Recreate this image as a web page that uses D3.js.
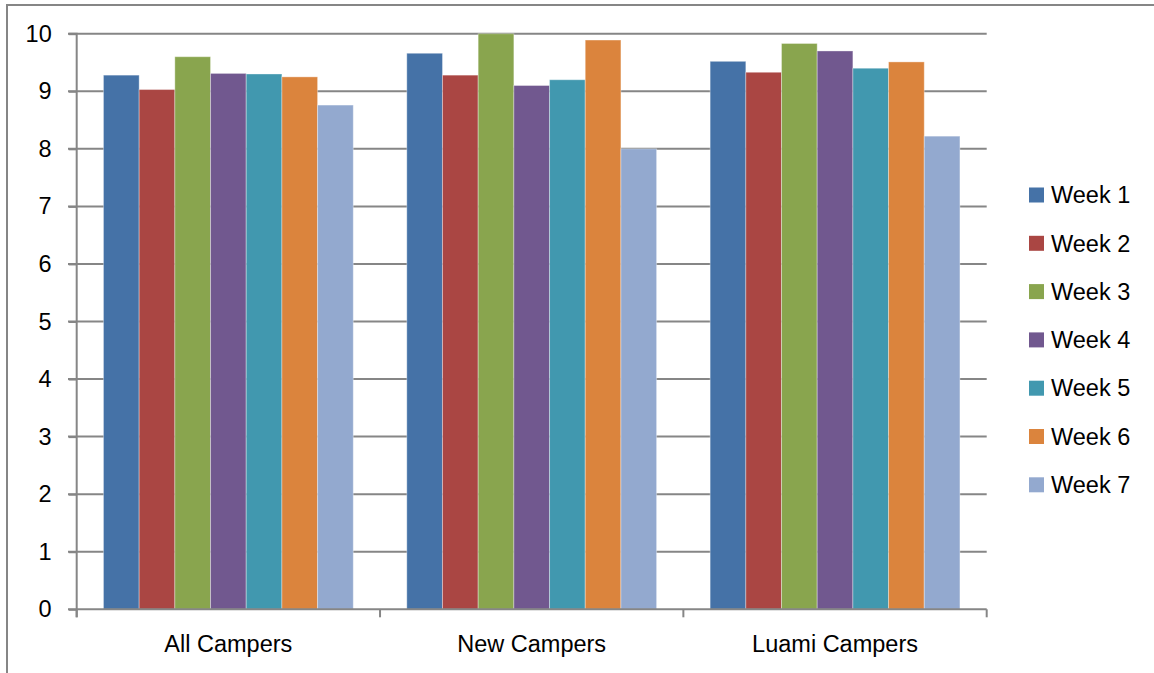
<!DOCTYPE html>
<html><head><meta charset="utf-8">
<script src="https://cdn.jsdelivr.net/npm/d3@7"></script>
<style>body{margin:0;background:#fff;} svg{display:block;}</style>
</head><body>
<svg id="c" width="1154" height="673"></svg>
<script>
const categories = ["All Campers","New Campers","Luami Campers"];
const seriesNames = ["Week 1","Week 2","Week 3","Week 4","Week 5","Week 6","Week 7"];
const week1 = [9.28, 9.66, 9.52];
const week2 = [9.03, 9.28, 9.33];
const week3 = [9.60, 10.0, 9.83];
const week4 = [9.31, 9.10, 9.70];
const week5 = [9.30, 9.20, 9.40];
const week6 = [9.25, 9.89, 9.51];
const week7 = [8.76, 8.00, 8.22];
const yTicks = [0,1,2,3,4,5,6,7,8,9,10];
const colors = ["#4572A7","#AA4643","#89A54E","#71588F","#4198AF","#DB843D","#93A9CF"];
const series = [week1,week2,week3,week4,week5,week6,week7];

const svg = d3.select("#c");
const font = "'Liberation Sans', Arial, sans-serif";
const fs = 23.5;
const L = 76.7, R = 986.7, T = 33.7, B = 609.3;
const grid = "#868686";

// outer border (clipped)
svg.append("path").attr("d","M7,673 V5 H1154").attr("fill","none").attr("stroke",grid).attr("stroke-width",2);

const x0 = d3.scaleBand().domain(categories).range([L,R]).paddingInner(0).paddingOuter(0);
const x1 = d3.scaleBand().domain(seriesNames).range([0,x0.bandwidth()]).paddingOuter(0.75).paddingInner(0);
const y = d3.scaleLinear().domain([0,10]).range([B,T]);

// gridlines
svg.append("g").selectAll("line").data(yTicks.filter(d=>d>0)).join("line")
  .attr("x1",68).attr("x2",R).attr("y1",d=>y(d)).attr("y2",d=>y(d))
  .attr("stroke",grid).attr("stroke-width",2);

// bars
const g = svg.append("g");
categories.forEach((c,ci)=>{
  series.forEach((s,si)=>{
    g.append("rect")
      .attr("x",x0(c)+x1(seriesNames[si]))
      .attr("y",y(s[ci]))
      .attr("width",x1.bandwidth())
      .attr("height",y(0)-y(s[ci]))
      .attr("fill",colors[si])
      .attr("stroke","rgba(255,255,255,0.35)").attr("stroke-width",1);
  });
});

// y axis
const yAxis = d3.axisLeft(y).tickValues(yTicks).tickSize(8).tickPadding(17).tickFormat(d3.format("d"));
const ya = svg.append("g").attr("transform",`translate(${L},0)`).call(yAxis);
ya.select(".domain").attr("stroke",grid).attr("stroke-width",2).attr("d",`M-8,${T}H0V${B+8}`);
ya.selectAll(".tick line").attr("stroke",grid).attr("stroke-width",2);
ya.selectAll("text").attr("font-family",font).attr("font-size",fs).attr("fill","#000");

// x axis
const xa = svg.append("g").attr("transform",`translate(0,${B})`);
xa.append("line").attr("x1",68).attr("x2",R).attr("y1",0).attr("y2",0).attr("stroke",grid).attr("stroke-width",2);
const bounds = categories.map(c=>x0(c)).concat([R]);
xa.selectAll("line.tk").data(bounds).join("line").attr("class","tk")
  .attr("x1",d=>d).attr("x2",d=>d).attr("y1",0).attr("y2",8).attr("stroke",grid).attr("stroke-width",2);
xa.selectAll("text").data(categories).join("text")
  .attr("x",d=>x0(d)+x0.bandwidth()/2).attr("y",43)
  .attr("text-anchor","middle").attr("font-family",font).attr("font-size",fs).attr("fill","#000").text(d=>d);

// legend
const lg = svg.append("g").selectAll("g").data(seriesNames).join("g")
  .attr("transform",(d,i)=>`translate(1029,${195+i*48.3})`);
lg.append("rect").attr("x",0).attr("y",-7.5).attr("width",15).attr("height",15).attr("fill",(d,i)=>colors[i]);
lg.append("text").attr("x",22).attr("y",0).attr("dy","0.35em").attr("font-family",font).attr("font-size",fs).attr("fill","#000").text(d=>d);
</script>
</body></html>
